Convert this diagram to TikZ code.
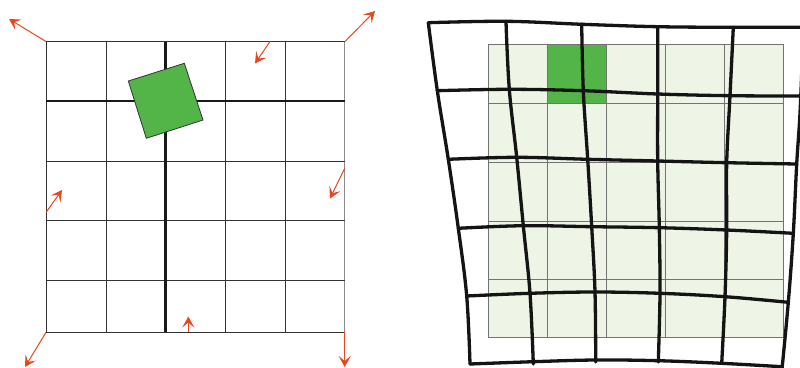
\documentclass[tikz,border=0pt]{standalone}
\usetikzlibrary{arrows.meta}
\definecolor{arr}{HTML}{E8461E}
\definecolor{gfill}{HTML}{53B447}
\definecolor{lgfill}{HTML}{EFF5E6}
\begin{document}
\begin{tikzpicture}[x=1pt,y=-1pt,
 gridline/.style={draw=black!80,line width=0.9pt},
 lightgrid/.style={draw=black!55,line width=0.9pt},
 thickline/.style={draw=black!90,line width=2.8pt},
 warp/.style={draw=black!92,line width=3.3pt,line cap=round,line join=round},
 vec/.style={draw=arr,line width=1pt,-{Stealth[length=11pt,width=12pt,inset=5pt,fill=arr]}}]
\useasboundingbox (0,0) rectangle (800,367);
\clip (0,0) rectangle (800,367);
% ---------- left grid ----------
\foreach \x in {46,106,225.7,285.3} \draw[gridline] (\x,41.5) -- (\x,332.3);
\draw[draw=black!45,line width=1pt] (344.7,41.5)--(344.7,332.3);
\foreach \y in {41.5,161,220.7,280.3,332.3} \draw[gridline] (46,\y) -- (344.7,\y);
\draw[thickline] (46,101)--(344.7,101);
\draw[thickline] (165.5,41.5)--(165.5,332.3);
\filldraw[fill=gfill,draw=black!80,line width=0.8pt] (128.3,81)--(184.3,63.3)--(203,120)--(146.3,138.3)--cycle;
% ---------- arrows ----------
\coordinate (s1) at (46,41.5);   \coordinate (e1) at (9,19);
\coordinate (s2) at (345,41.5);  \coordinate (e2) at (375,11);
\coordinate (s3) at (270,41.5);  \coordinate (e3) at (255,63.5);
\coordinate (s4) at (46,212.5);  \coordinate (e4) at (62,190);
\coordinate (s5) at (344.7,168.3); \coordinate (e5) at (330,198.5);
\coordinate (s6) at (188.3,332); \coordinate (e6) at (188.3,316.5);
\coordinate (s7) at (46,332.3);  \coordinate (e7) at (25,367);
\coordinate (s8) at (344.7,332.3); \coordinate (e8) at (344.7,367);
\foreach \i in {1,...,8} \draw[vec] (s\i) -- (e\i);
% ---------- right: light grid ----------
\filldraw[fill=lgfill,lightgrid] (488.3,44.7) rectangle (783.3,337.7);
\filldraw[fill=gfill,lightgrid] (547.7,44.7) rectangle (606.7,103.3);
\foreach \x in {547.7,606.7,665.7,724.7} \draw[lightgrid] (\x,44.7) -- (\x,337.7);
\foreach \y in {103.3,162.3,221,279.3} \draw[lightgrid] (488.3,\y) -- (783.3,\y);
% ---------- right: warped grid ----------
\draw[warp] plot[smooth,tension=0.6] coordinates {(428.3,22.7) (506.7,21.3) (582.3,24.3) (657.7,26.7) (733.3,27.3) (805,27.3)};
\draw[warp] plot[smooth,tension=0.6] coordinates {(437.3,90.7) (509.3,89.3) (583.3,90.7) (657.7,94) (730,95.7) (805,96)};
\draw[warp] plot[smooth,tension=0.6] coordinates {(448.3,159.3) (516.7,157.3) (587.7,159.3) (657.7,161) (726.7,162.7) (796.7,164)};
\draw[warp] plot[smooth,tension=0.6] coordinates {(458.3,228.3) (523.3,225.7) (591.7,226.7) (659.3,227.7) (726.7,230) (793.3,233.3)};
\draw[warp] plot[smooth,tension=0.6] coordinates {(466.7,296) (530,293.3) (595,292) (660,293.3) (725,296.7) (788.3,302.3)};
\draw[warp] plot[smooth,tension=0.6] coordinates {(470,364) (533.3,361.7) (595.7,360) (658.3,360.7) (721.7,363.3) (781.7,366.7)};
%
\draw[warp] plot[smooth,tension=0.6] coordinates {(428.3,22.7) (437.3,90.7) (448.3,159.3) (458.3,228.3) (466.7,296) (470,364)};
\draw[warp] plot[smooth,tension=0.6] coordinates {(506,22) (509.3,89.3) (516.7,157.3) (523.3,225.7) (530,293.3) (533.3,364)};
\draw[warp] plot[smooth,tension=0.6] coordinates {(581.7,24) (583.3,90.7) (587.7,159.3) (591.7,226.7) (595,292) (595.7,362)};
\draw[warp] plot[smooth,tension=0.6] coordinates {(657.7,26.7) (657.7,94) (657.7,161) (659.3,227.7) (660,293.3) (658.3,362)};
\draw[warp] plot[smooth,tension=0.6] coordinates {(733.3,27.3) (730,95.7) (726.7,162.7) (726.7,230) (725,296.7) (721.7,363.3)};
\draw[warp] plot[smooth,tension=0.6] coordinates {(803,40) (800,113) (796.7,164) (793.3,233.3) (788.3,302.3) (781.7,372)};
\end{tikzpicture}
\end{document}
